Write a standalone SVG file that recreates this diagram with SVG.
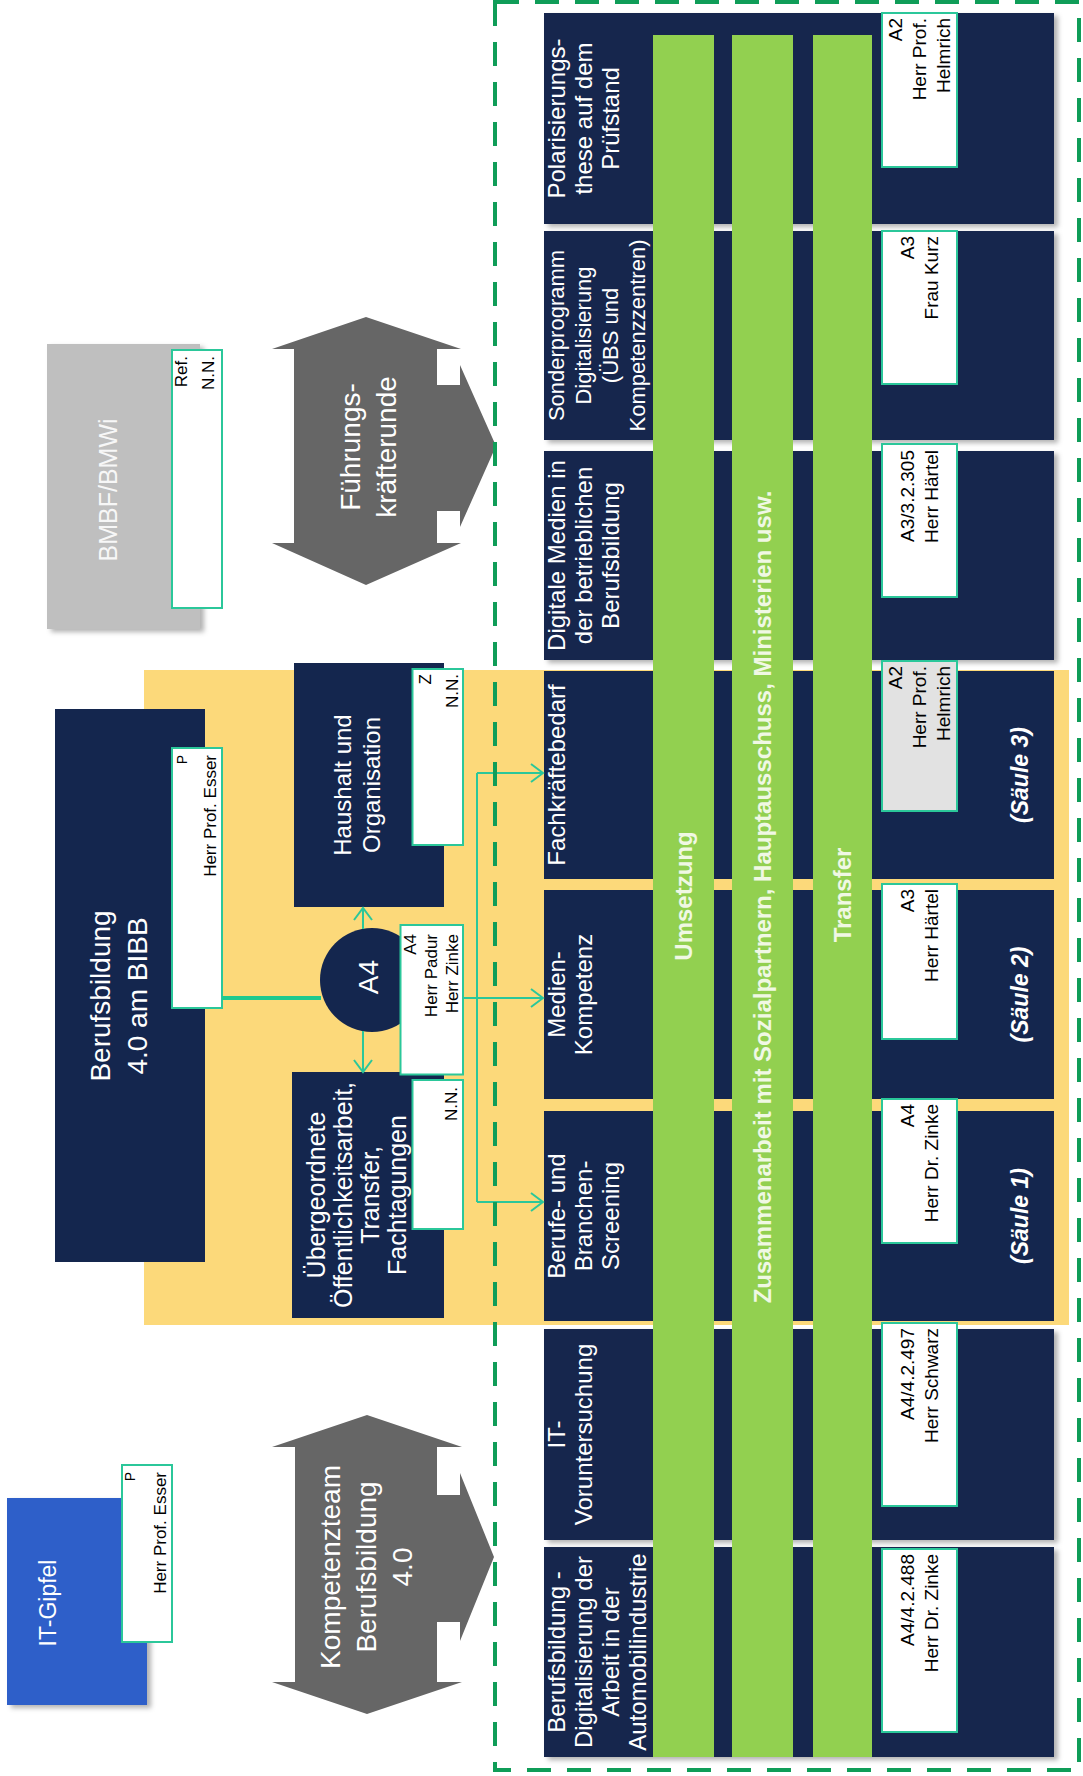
<svg xmlns="http://www.w3.org/2000/svg" width="1083" height="1776" viewBox="0 0 1083 1776">
<style>
.nv{fill:#14264E}
.wb{fill:#ffffff;stroke:#2BC79A;stroke-width:2}
.gb{fill:#E2E2E2;stroke:#2BC79A;stroke-width:2}
.bar{fill:#92D050}
.arrowshape{fill:#666666}
.f{font-family:"Liberation Sans",Arial,sans-serif}
.wt{fill:#ffffff}
.bk{fill:#000000}
.t24{font-size:24px}
.t25{font-size:25px}
.t28{font-size:28px}
.t19{font-size:19px}
.t17{font-size:17px}
.t14{font-size:14px}
.bt{font-size:24px;font-weight:bold;fill:#F0F8E4}
.sl{font-size:23px;font-weight:bold;font-style:italic;fill:#ffffff}
.con{fill:none;stroke:#2BC79A;stroke-width:2}
</style>
<defs>
<filter id="sh" x="-10%" y="-10%" width="130%" height="130%">
<feDropShadow dx="4" dy="3" stdDeviation="2.5" flood-color="#000" flood-opacity="0.3"/>
</filter>
<marker id="ah" markerWidth="16" markerHeight="22" refX="14" refY="11" orient="auto" markerUnits="userSpaceOnUse">
<path d="M2,2 L14,11 L2,20" fill="none" stroke="#2BC79A" stroke-width="2"/>
</marker>
</defs>
<rect width="1083" height="1776" fill="#ffffff"/>

<!-- yellow background zone -->
<rect id="yellow-zone" x="144" y="670" width="925" height="655" fill="#FCD97A"/>

<!-- BMBF/BMWi -->
<g id="bmbf">
<rect x="47" y="344" width="153" height="285" fill="#BFBFBF" filter="url(#sh)"/>
<text class="f t25" fill="#F7F7F7" text-anchor="middle" transform="translate(117.3,490) rotate(-90)">BMBF/BMWi</text>
<rect class="wb" x="172" y="350" width="50" height="258"/>
<text class="f t17 bk" text-anchor="end" transform="translate(187,356) rotate(-90)"><tspan x="0" y="0">Ref.</tspan><tspan x="0" y="27">N.N.</tspan></text>
</g>

<!-- Führungskräfterunde -->
<g id="fuehrung">
<path class="arrowshape" d="M366,317 L461,349 L437,349 L437,385 L460,385 L460,365 L496,446 L460,527 L460,511 L437,511 L437,543 L461,543 L366,585 L272,543 L294,543 L294,349 L272,349 Z"/>
<text class="f t28 wt" text-anchor="middle" transform="translate(359.8,447) rotate(-90)"><tspan x="0" y="0">Führungs-</tspan><tspan x="0" y="36">kräfterunde</tspan></text>
</g>

<!-- Berufsbildung 4.0 am BIBB -->
<g id="bibb">
<rect class="nv" x="55" y="709" width="150" height="553"/>
<text class="f t28 wt" text-anchor="middle" transform="translate(109.8,996) rotate(-90)"><tspan x="0" y="0">Berufsbildung</tspan><tspan x="0" y="37">4.0 am BIBB</tspan></text>
<rect class="wb" x="172" y="748" width="50" height="260"/>
<text class="f bk" text-anchor="end" transform="translate(187,755) rotate(-90)"><tspan class="t14" x="0" y="0">P</tspan><tspan class="t17" x="0" y="29">Herr Prof. Esser</tspan></text>
</g>

<!-- Haushalt und Organisation -->
<g id="haushalt">
<rect class="nv" x="294" y="663" width="150" height="244"/>
<text class="f t24 wt" text-anchor="middle" transform="translate(351.4,785) rotate(-90)"><tspan x="0" y="0">Haushalt und</tspan><tspan x="0" y="29">Organisation</tspan></text>
<rect class="wb" x="412.5" y="669" width="50.5" height="176"/>
<text class="f t17 bk" text-anchor="end" transform="translate(431,674) rotate(-90)"><tspan x="0" y="0">Z</tspan><tspan x="0" y="27">N.N.</tspan></text>
</g>

<!-- Übergeordnete -->
<g id="uebergeordnet">
<rect class="nv" x="292" y="1072" width="152" height="246"/>
<text class="f t25 wt" text-anchor="middle" transform="translate(324.8,1195) rotate(-90)"><tspan x="0" y="0">Übergeordnete</tspan><tspan x="0" y="27">Öffentlichkeitsarbeit,</tspan><tspan x="0" y="54">Transfer,</tspan><tspan x="0" y="81">Fachtagungen</tspan></text>
<rect class="wb" x="412.5" y="1080" width="50.5" height="149"/>
<text class="f t17 bk" text-anchor="end" transform="translate(457,1087) rotate(-90)">N.N.</text>
</g>

<!-- A4 circle -->
<g id="a4">
<circle class="nv" cx="372" cy="980" r="52"/>
<text class="f t28 wt" text-anchor="middle" transform="translate(377.8,977) rotate(-90)">A4</text>
<rect class="wb" x="400.5" y="925" width="62.5" height="149.5"/>
<text class="f t17 bk" text-anchor="end" transform="translate(416,934) rotate(-90)"><tspan x="0" y="0">A4</tspan><tspan x="0" y="21">Herr Padur</tspan><tspan x="0" y="42">Herr Zinke</tspan></text>
</g>

<!-- IT-Gipfel -->
<g id="itgipfel">
<rect x="7" y="1498" width="140" height="207" fill="#2F5FC9" filter="url(#sh)"/>
<text class="f wt" font-size="23" text-anchor="middle" transform="translate(56,1603) rotate(-90)">IT-Gipfel</text>
<rect class="wb" x="122" y="1465" width="50" height="177"/>
<text class="f bk" text-anchor="end" transform="translate(135,1472) rotate(-90)"><tspan class="t14" x="0" y="0">P</tspan><tspan class="t17" x="0" y="31">Herr Prof. Esser</tspan></text>
</g>

<!-- Kompetenzteam -->
<g id="kompetenzteam">
<path class="arrowshape" d="M367,1415 L462,1447 L437,1447 L437,1495 L460,1495 L460,1473 L494,1557 L460,1641 L460,1622 L437,1622 L437,1682 L462,1682 L367,1714 L272,1682 L295,1682 L295,1447 L272,1447 Z"/>
<text class="f t28 wt" text-anchor="middle" transform="translate(339.8,1567) rotate(-90)"><tspan x="0" y="0">Kompetenzteam</tspan><tspan x="0" y="36">Berufsbildung</tspan><tspan x="0" y="72">4.0</tspan></text>
</g>

<!-- project rows -->
<g id="row1">
<rect class="nv" x="544" y="13" width="510" height="211" filter="url(#sh)"/>
<text class="f t24 wt" text-anchor="middle" transform="translate(565.4,118.5) rotate(-90)"><tspan x="0" y="0">Polarisierungs-</tspan><tspan x="0" y="27">these auf dem</tspan><tspan x="0" y="54">Prüfstand</tspan></text>
</g>
<g id="row2">
<rect class="nv" x="544" y="231" width="510" height="209" filter="url(#sh)"/>
<text class="f wt" font-size="22" text-anchor="middle" transform="translate(563.7,335.5) rotate(-90)"><tspan x="0" y="0">Sonderprogramm</tspan><tspan x="0" y="27">Digitalisierung</tspan><tspan x="0" y="54">(ÜBS und</tspan><tspan x="0" y="81">Kompetenzzentren)</tspan></text>
</g>
<g id="row3">
<rect class="nv" x="544" y="451" width="510" height="209" filter="url(#sh)"/>
<text class="f t24 wt" text-anchor="middle" transform="translate(565.4,555.5) rotate(-90)"><tspan x="0" y="0">Digitale Medien in</tspan><tspan x="0" y="27">der betrieblichen</tspan><tspan x="0" y="54">Berufsbildung</tspan></text>
</g>
<g id="row4">
<rect class="nv" x="544" y="671" width="510" height="208"/>
<text class="f t24 wt" text-anchor="middle" transform="translate(565.4,775) rotate(-90)">Fachkräftebedarf</text>
</g>
<g id="row5">
<rect class="nv" x="544" y="890" width="510" height="209"/>
<text class="f t24 wt" text-anchor="middle" transform="translate(565.4,994.5) rotate(-90)"><tspan x="0" y="0">Medien-</tspan><tspan x="0" y="27">Kompetenz</tspan></text>
</g>
<g id="row6">
<rect class="nv" x="544" y="1111" width="510" height="210"/>
<text class="f t24 wt" text-anchor="middle" transform="translate(565.4,1216) rotate(-90)"><tspan x="0" y="0">Berufe- und</tspan><tspan x="0" y="27">Branchen-</tspan><tspan x="0" y="54">Screening</tspan></text>
</g>
<g id="row7">
<rect class="nv" x="544" y="1329" width="510" height="211" filter="url(#sh)"/>
<text class="f t24 wt" text-anchor="middle" transform="translate(565.4,1434.5) rotate(-90)"><tspan x="0" y="0">IT-</tspan><tspan x="0" y="27">Voruntersuchung</tspan></text>
</g>
<g id="row8">
<rect class="nv" x="544" y="1547" width="510" height="210" filter="url(#sh)"/>
<text class="f t24 wt" text-anchor="middle" transform="translate(565.4,1652) rotate(-90)"><tspan x="0" y="0">Berufsbildung -</tspan><tspan x="0" y="27">Digitalisierung der</tspan><tspan x="0" y="54">Arbeit in der</tspan><tspan x="0" y="81">Automobilindustrie</tspan></text>
</g>

<!-- cross-cutting bars -->
<g id="bar-umsetzung">
<rect class="bar" x="653" y="35" width="61" height="1722"/>
<text class="f bt" text-anchor="middle" transform="translate(692,896) rotate(-90)">Umsetzung</text>
</g>
<g id="bar-zusammenarbeit">
<rect class="bar" x="732" y="35" width="61" height="1722"/>
<text class="f bt" text-anchor="middle" transform="translate(770.5,897) rotate(-90)">Zusammenarbeit mit Sozialpartnern, Hauptausschuss, Ministerien usw.</text>
</g>
<g id="bar-transfer">
<rect class="bar" x="813" y="35" width="59" height="1722"/>
<text class="f bt" text-anchor="middle" transform="translate(850.5,895) rotate(-90)">Transfer</text>
</g>

<!-- responsibility boxes -->
<g id="resp1">
<rect class="wb" x="882" y="13" width="75" height="154"/>
<text class="f t19 bk" text-anchor="end" transform="translate(902.2,18) rotate(-90)"><tspan x="0" y="0">A2</tspan><tspan x="0" y="24">Herr Prof.</tspan><tspan x="0" y="48">Helmrich</tspan></text>
</g>
<g id="resp2">
<rect class="wb" x="882" y="231" width="75" height="153"/>
<text class="f t19 bk" text-anchor="end" transform="translate(914.2,236) rotate(-90)"><tspan x="0" y="0">A3</tspan><tspan x="0" y="24">Frau Kurz</tspan></text>
</g>
<g id="resp3">
<rect class="wb" x="882" y="444" width="75" height="153"/>
<text class="f t19 bk" text-anchor="end" transform="translate(914.2,450) rotate(-90)"><tspan x="0" y="0">A3/3.2.305</tspan><tspan x="0" y="24">Herr Härtel</tspan></text>
</g>
<g id="resp4">
<rect class="gb" x="882" y="661" width="75" height="150"/>
<text class="f t19 bk" text-anchor="end" transform="translate(902.2,666) rotate(-90)"><tspan x="0" y="0">A2</tspan><tspan x="0" y="24">Herr Prof.</tspan><tspan x="0" y="48">Helmrich</tspan></text>
</g>
<g id="resp5">
<rect class="wb" x="882" y="884" width="75" height="155"/>
<text class="f t19 bk" text-anchor="end" transform="translate(914.2,889) rotate(-90)"><tspan x="0" y="0">A3</tspan><tspan x="0" y="24">Herr Härtel</tspan></text>
</g>
<g id="resp6">
<rect class="wb" x="882" y="1099" width="75" height="144"/>
<text class="f t19 bk" text-anchor="end" transform="translate(914.2,1104) rotate(-90)"><tspan x="0" y="0">A4</tspan><tspan x="0" y="24">Herr Dr. Zinke</tspan></text>
</g>
<g id="resp7">
<rect class="wb" x="882" y="1323" width="75" height="183"/>
<text class="f t19 bk" text-anchor="end" transform="translate(914.2,1328) rotate(-90)"><tspan x="0" y="0">A4/4.2.497</tspan><tspan x="0" y="24">Herr Schwarz</tspan></text>
</g>
<g id="resp8">
<rect class="wb" x="882" y="1549" width="75" height="183"/>
<text class="f t19 bk" text-anchor="end" transform="translate(914.2,1554) rotate(-90)"><tspan x="0" y="0">A4/4.2.488</tspan><tspan x="0" y="24">Herr Dr. Zinke</tspan></text>
</g>

<!-- pillar labels -->
<g id="saeule3"><text class="f sl" text-anchor="middle" transform="translate(1028,775) rotate(-90)">(Säule 3)</text></g>
<g id="saeule2"><text class="f sl" text-anchor="middle" transform="translate(1028,994.5) rotate(-90)">(Säule 2)</text></g>
<g id="saeule1"><text class="f sl" text-anchor="middle" transform="translate(1028,1216) rotate(-90)">(Säule 1)</text></g>

<!-- connectors -->
<g id="connectors">
<line x1="222" y1="998" x2="321" y2="998" stroke="#1FC98E" stroke-width="4"/>
<line class="con" x1="363" y1="929" x2="363" y2="908" marker-end="url(#ah)"/>
<line class="con" x1="363" y1="1031" x2="363" y2="1072" marker-end="url(#ah)"/>
<line class="con" x1="463" y1="998" x2="543" y2="998" marker-end="url(#ah)"/>
<line class="con" x1="477" y1="773" x2="477" y2="1202"/>
<line class="con" x1="477" y1="773" x2="543" y2="773" marker-end="url(#ah)"/>
<line class="con" x1="477" y1="1202" x2="543" y2="1202" marker-end="url(#ah)"/>
</g>

<!-- dashed frame -->
<rect id="frame" x="495" y="2" width="584" height="1768" fill="none" stroke="#0F9D58" stroke-width="4" stroke-dasharray="24 16"/>
</svg>
